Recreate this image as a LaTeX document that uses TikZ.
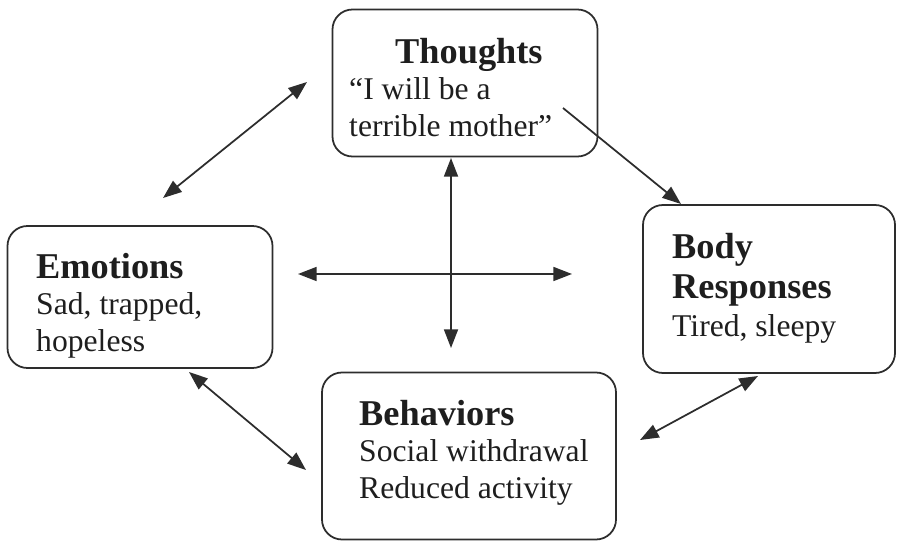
\documentclass[tikz,border=0pt]{standalone}
\usepackage{fontspec}
\setmainfont{Liberation Serif}
\usetikzlibrary{arrows.meta}
\definecolor{linecol}{RGB}{45,45,45}
\definecolor{textcol}{RGB}{30,30,30}
\newcommand{\boxtitle}[1]{{\fontsize{31}{31}\selectfont\bfseries #1}}

\begin{document}
\begin{tikzpicture}[x=0.03cm, y=-0.03cm,
  box/.style 2 args={draw=linecol, line width=1.5pt, rounded corners=0.6cm,
    minimum width=#1, minimum height=#2, inner sep=0pt},
  txt/.style={anchor=north west, align=left, inner sep=0pt, text=textcol,
    font=\fontsize{27}{31}\selectfont},
  link/.style={draw=linecol, line width=1.5pt,
    -{Triangle[length=0.56cm,width=0.42cm]}},
  dbllink/.style={link, {Triangle[length=0.56cm,width=0.42cm]}-{Triangle[length=0.56cm,width=0.42cm]}}]
  \useasboundingbox (0,0) rectangle (898,543);

  % boxes
  \node[box={7.95cm}{4.41cm}] (thoughts) at (465,83) {};
  \node[box={7.95cm}{4.26cm}] (emotions) at (140,297) {};
  \node[box={7.56cm}{5.04cm}] (body) at (769,289) {};
  \node[box={8.82cm}{5.01cm}] (behaviors) at (469,456) {};

  % texts
  \node[txt] (thoughtsText) at (349,38)
    {\hspace*{1.38cm}\boxtitle{Thoughts}\\“I will be a\\terrible mother”};
  \node[txt] (emotionsText) at (36,253)
    {\boxtitle{Emotions}\\Sad, trapped,\\hopeless};
  \node[txt] (bodyText) at (672,233)
    {\boxtitle{Body}\\[3pt]\boxtitle{Responses}\\[2pt]Tired, sleepy};
  \node[txt] (behaviorsText) at (359,400)
    {\boxtitle{Behaviors}\\Social withdrawal\\Reduced activity};

  % arrow ends
  \coordinate (te1) at (307,82);  \coordinate (te2) at (163,198);
  \coordinate (tb1) at (563,108); \coordinate (tb2) at (681,204);
  \coordinate (v1) at (451,158);  \coordinate (v2) at (451,348);
  \coordinate (h1) at (298,274);  \coordinate (h2) at (572,274);
  \coordinate (eb1) at (189,372); \coordinate (eb2) at (306,470);
  \coordinate (bb1) at (758,376); \coordinate (bb2) at (640,440);

  % connectors
  \draw[link] (tb1) -- (tb2);
  \foreach \a/\b in {te1/te2, v1/v2, h1/h2, eb1/eb2, bb1/bb2}{
    \draw[dbllink] (\a) -- (\b);
  }
\end{tikzpicture}
\end{document}
